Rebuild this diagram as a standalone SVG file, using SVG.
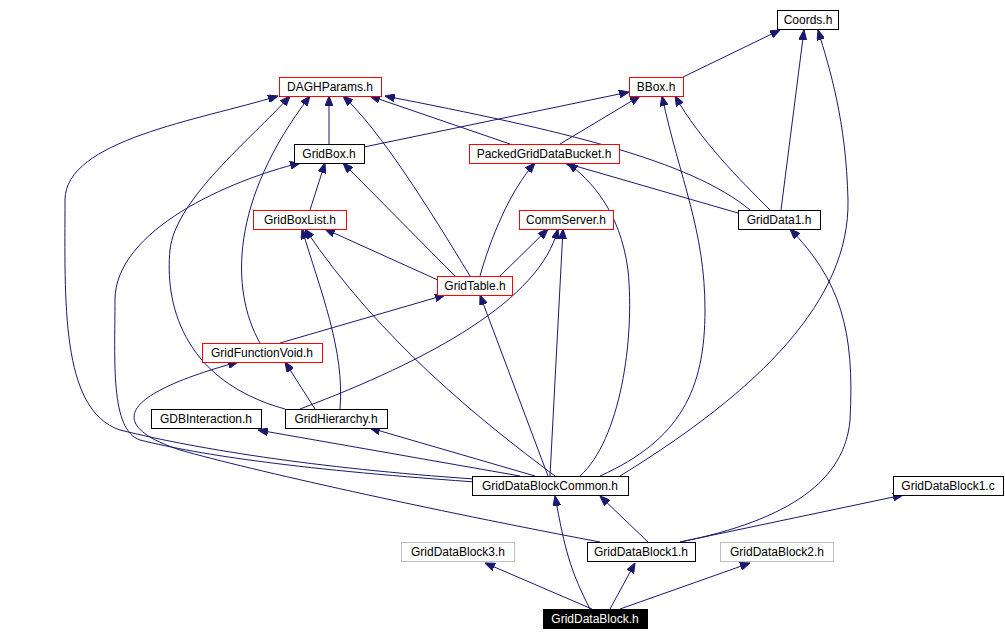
<svg xmlns="http://www.w3.org/2000/svg" width="1005" height="642" viewBox="0 0 1005 642">
<style>
.n rect{fill:#fff;stroke:#000;stroke-width:1}
.n.r rect{stroke:#ff0000}
.n.g rect{stroke:#bfbfbf}
.n text{font-family:"Liberation Sans",Arial,sans-serif;font-size:12px;text-anchor:middle;fill:#000}
#edges path{fill:none;stroke:#191970;stroke-width:1;marker-end:url(#a)}
</style>
<defs><marker id="a" markerWidth="10" markerHeight="8" refX="10" refY="4" orient="auto" markerUnits="userSpaceOnUse"><path d="M0,0 L10,4 L0,8 z" fill="#191970" stroke="#191970"/></marker></defs>
<rect width="1005" height="642" fill="#fff"/>
<g id="edges">
<path d="M683,77 L780,30"/>
<path d="M781,210 L804,30"/>
<path d="M620,476 C760,390 850,300 848,200 C846,120 830,70 818,30"/>
<path d="M329,144 L329,96"/>
<path d="M364,147 L629,92"/>
<path d="M510,144 L370,96"/>
<path d="M560,144 L640,96"/>
<path d="M750,210 C690,160 560,130 385,96"/>
<path d="M770,210 C740,180 700,140 675,96"/>
<path d="M738,213 L565,163"/>
<path d="M310,210 L325,163"/>
<path d="M455,276 L343,163"/>
<path d="M470,276 C430,210 380,130 343,96"/>
<path d="M440,281 L325,229"/>
<path d="M480,276 C490,240 510,190 535,163"/>
<path d="M500,276 L548,229"/>
<path d="M260,343 C230,290 230,200 310,96"/>
<path d="M280,343 L445,295"/>
<path d="M315,409 L285,362"/>
<path d="M340,409 C345,350 320,290 302,229"/>
<path d="M300,409 C430,360 540,300 558,229"/>
<path d="M285,409 C180,380 165,300 170,250 C175,200 250,140 290,96"/>
<path d="M490,480 C330,470 200,450 120,430 C60,410 65,300 65,200 C65,140 200,120 278,96"/>
<path d="M490,483 C300,470 200,455 140,440 C110,430 115,360 115,300 C115,230 230,180 300,163"/>
<path d="M520,476 L258,430"/>
<path d="M535,476 L370,428"/>
<path d="M548,476 L480,295"/>
<path d="M550,476 L563,229"/>
<path d="M580,476 C620,440 635,340 628,270 C620,210 590,180 568,163"/>
<path d="M600,476 C680,440 705,390 705,310 C705,230 680,180 662,96"/>
<path d="M555,476 C480,420 380,340 305,229"/>
<path d="M648,542 L600,496"/>
<path d="M680,542 C790,520 845,480 850,420 C855,330 840,280 790,229"/>
<path d="M600,542 C430,510 250,470 180,450 C120,430 100,400 238,362"/>
<path d="M680,542 L903,495"/>
<path d="M592,609 L485,563"/>
<path d="M610,609 L635,563"/>
<path d="M620,609 L750,563"/>
<path d="M590,609 C570,570 565,550 555,496"/>
</g>
<g id="coords" class="n"><rect x="777.5" y="10.5" width="61" height="19"/><text x="808" y="24">Coords.h</text></g>
<g id="dagh" class="n r"><rect x="279.5" y="77.5" width="102" height="19"/><text x="330" y="91">DAGHParams.h</text></g>
<g id="bbox" class="n r"><rect x="629.5" y="77.5" width="54" height="19"/><text x="656" y="91">BBox.h</text></g>
<g id="gridbox" class="n"><rect x="294.5" y="144.5" width="70" height="19"/><text x="329" y="158">GridBox.h</text></g>
<g id="pgdb" class="n r"><rect x="469.5" y="144.5" width="150" height="19"/><text x="544" y="158">PackedGridDataBucket.h</text></g>
<g id="gbl" class="n r"><rect x="253.5" y="210.5" width="93" height="19"/><text x="300" y="224">GridBoxList.h</text></g>
<g id="comm" class="n r"><rect x="519.5" y="210.5" width="94" height="19"/><text x="566" y="224">CommServer.h</text></g>
<g id="gd1" class="n"><rect x="738.5" y="210.5" width="82" height="19"/><text x="779" y="224">GridData1.h</text></g>
<g id="gtable" class="n r"><rect x="437.5" y="276.5" width="75" height="19"/><text x="475" y="290">GridTable.h</text></g>
<g id="gfv" class="n r"><rect x="202.5" y="343.5" width="120" height="19"/><text x="262" y="357">GridFunctionVoid.h</text></g>
<g id="gdbi" class="n"><rect x="151.5" y="409.5" width="110" height="19"/><text x="206" y="423">GDBInteraction.h</text></g>
<g id="gh" class="n"><rect x="285.5" y="409.5" width="102" height="19"/><text x="336" y="423">GridHierarchy.h</text></g>
<g id="gdbc" class="n"><rect x="472.5" y="476.5" width="156" height="19"/><text x="550" y="490">GridDataBlockCommon.h</text></g>
<g id="gdb1c" class="n"><rect x="893.5" y="476.5" width="110" height="19"/><text x="948" y="490">GridDataBlock1.c</text></g>
<g id="gdb3" class="n g"><rect x="401.5" y="542.5" width="113" height="19"/><text x="458" y="556">GridDataBlock3.h</text></g>
<g id="gdb1h" class="n"><rect x="587.5" y="542.5" width="108" height="19"/><text x="641" y="556">GridDataBlock1.h</text></g>
<g id="gdb2" class="n g"><rect x="720.5" y="542.5" width="113" height="19"/><text x="777" y="556">GridDataBlock2.h</text></g>
<g id="gdb" class="n"><rect x="543.5" y="609.5" width="104" height="19" style="fill:#000"/><text x="595" y="623" style="fill:#fff">GridDataBlock.h</text></g>
</svg>
